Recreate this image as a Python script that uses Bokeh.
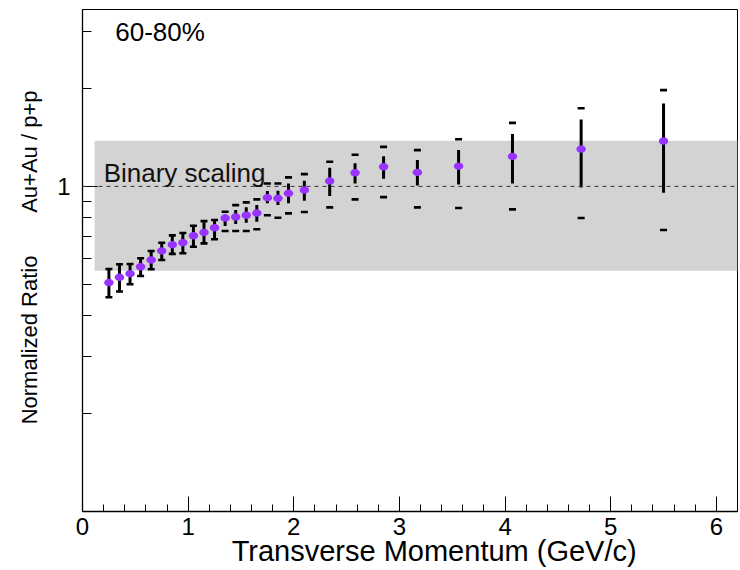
from bokeh.embed import file_html
from bokeh.models import ColumnDataSource, FixedTicker, Label, SingleIntervalTicker, Span
from bokeh.plotting import figure
from bokeh.resources import INLINE

# Au+Au / p+p normalized ratio, 60-80% centrality
pt = [0.25, 0.35, 0.45, 0.55, 0.65, 0.75, 0.85, 0.95, 1.05, 1.15, 1.25, 1.35,
      1.45, 1.55, 1.65, 1.75, 1.85, 1.95, 2.10, 2.34, 2.58, 2.85, 3.17, 3.56,
      4.07, 4.72, 5.50]
ratio = [0.506, 0.525, 0.539, 0.566, 0.594, 0.633, 0.662, 0.671, 0.705, 0.722,
         0.746, 0.799, 0.805, 0.815, 0.828, 0.923, 0.919, 0.952, 0.974, 1.038,
         1.101, 1.149, 1.104, 1.154, 1.236, 1.302, 1.378]
stat_hi = [0.557, 0.576, 0.577, 0.601, 0.633, 0.671, 0.707, 0.719, 0.757, 0.775,
           0.785, 0.820, 0.846, 0.862, 0.876, 0.967, 0.969, 1.021, 1.040, 1.141,
           1.177, 1.239, 1.205, 1.293, 1.448, 1.606, 1.799]
stat_lo = [0.456, 0.475, 0.500, 0.530, 0.556, 0.594, 0.620, 0.623, 0.652, 0.672,
           0.692, 0.755, 0.766, 0.773, 0.778, 0.887, 0.876, 0.887, 0.903, 0.934,
           1.021, 1.055, 1.007, 1.014, 1.021, 0.993, 0.956]
sys_hi = [0.557, 0.576, 0.577, 0.601, 0.633, 0.671, 0.707, 0.719, 0.757, 0.782,
          0.788, 0.836, 0.876, 0.893, 0.912, 1.021, 1.021, 1.066, 1.091, 1.190,
          1.251, 1.323, 1.293, 1.397, 1.568, 1.740, 1.977]
sys_lo = [0.456, 0.475, 0.500, 0.530, 0.556, 0.594, 0.620, 0.623, 0.652, 0.668,
          0.688, 0.729, 0.729, 0.729, 0.738, 0.815, 0.801, 0.826, 0.834, 0.862,
          0.912, 0.927, 0.862, 0.858, 0.850, 0.799, 0.734]

# overall normalization uncertainty band
band_x = [0.115, 6.2]
band_y = [0.550, 1.381]

x_range = (0.0, 6.2)
y_range = (0.1, 3.5)
y_minor = [0.2, 0.3, 0.4, 0.5, 0.6, 0.7, 0.8, 0.9, 2.0, 3.0]

FONT = "Liberation Sans"
NBSP = "\u00a0"

p = figure(width=740, height=570, x_range=x_range, y_range=y_range,
           y_axis_type="log", output_backend="svg", toolbar_location=None,
           title=None, min_border_left=82, min_border_right=3,
           min_border_top=9, min_border_bottom=59)
p.background_fill_color = "white"
p.border_fill_color = "white"
p.outline_line_color = "black"
p.outline_line_width = 1
p.xgrid.visible = False
p.ygrid.visible = False

# band and reference line
p.quad(left=band_x[0], right=band_x[1], bottom=band_y[0], top=band_y[1],
       fill_color="#d3d3d3", line_color=None)
p.add_layout(Span(location=1.0, dimension="width", line_color="#333333",
                  line_width=1, line_dash="4 4"))
p.add_layout(Label(x=0.2, y=1.10, text="Binary scaling", text_font=FONT,
                   text_font_size="26px", text_color="#111111",
                   text_baseline="alphabetic"))

src = ColumnDataSource(dict(pt=pt, ratio=ratio, stat_hi=stat_hi, stat_lo=stat_lo,
                            sys_hi=sys_hi, sys_lo=sys_lo))

# statistical errors
p.segment(x0="pt", y0="stat_lo", x1="pt", y1="stat_hi", source=src,
          line_color="black", line_width=3)
# systematic errors as short horizontal bars
p.rect(x="pt", y="sys_hi", width=7, height=2.6, width_units="screen",
       height_units="screen", source=src, fill_color="black", line_color=None)
p.rect(x="pt", y="sys_lo", width=7, height=2.6, width_units="screen",
       height_units="screen", source=src, fill_color="black", line_color=None)
# data points
p.ellipse(x="pt", y="ratio", width=9.5, height=7.5, width_units="screen",
          height_units="screen", source=src, fill_color="#9933ff",
          line_color=None)

# axes
xa = p.xaxis[0]
xa.ticker = SingleIntervalTicker(interval=1, num_minor_ticks=5)
xa.major_tick_in = 15
xa.major_tick_out = 0
xa.minor_tick_in = 7
xa.minor_tick_out = 0
xa.axis_line_width = 1.3
xa.major_label_standoff = 6
xa.major_label_text_font = FONT
xa.major_label_text_font_size = "24px"
xa.major_label_text_color = "black"
xa.axis_label = NBSP * 6 + "Transverse Momentum (GeV/c)"
xa.axis_label_text_font = FONT
xa.axis_label_text_font_size = "29px"
xa.axis_label_text_font_style = "normal"
xa.axis_label_text_color = "black"
xa.axis_label_standoff = -3

ya = p.yaxis[0]
ya.ticker = FixedTicker(ticks=[1.0], minor_ticks=y_minor)
ya.major_label_overrides = {1: "1"}
ya.major_tick_in = 15
ya.major_tick_out = 0
ya.minor_tick_in = 9
ya.minor_tick_out = 0
ya.axis_line_width = 1.3
ya.major_label_standoff = 12
ya.major_label_text_font = FONT
ya.major_label_text_font_size = "24px"
ya.major_label_text_color = "black"
ya.axis_label = NBSP + "Normalized Ratio" + NBSP * 7 + "Au+Au / p+p"
ya.axis_label_text_font = FONT
ya.axis_label_text_font_size = "22px"
ya.axis_label_text_font_style = "normal"
ya.axis_label_text_color = "black"
ya.axis_label_standoff = 12

# centrality tag
p.add_layout(Label(x=0.31, y=2.98, text="60-80%", text_font=FONT,
                   text_font_size="26px", text_baseline="alphabetic",
                   text_color="black"))

open("out.html", "w").write(file_html(p, INLINE))
